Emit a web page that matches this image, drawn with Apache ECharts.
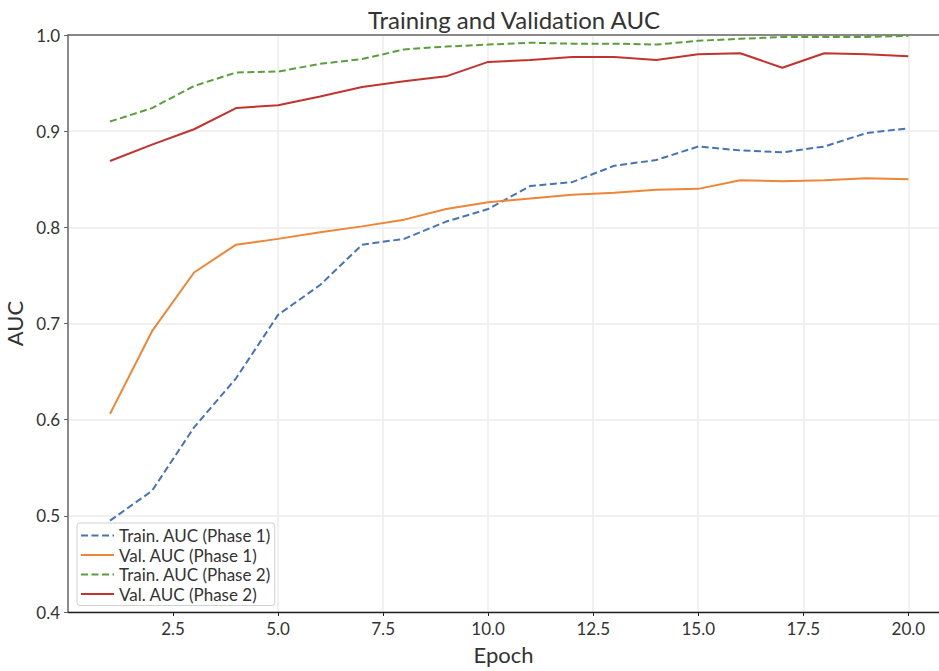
<!DOCTYPE html>
<html>
<head>
<meta charset="utf-8">
<script src="https://cdn.jsdelivr.net/npm/echarts@6/dist/echarts.min.js"></script>
<style>
html,body{margin:0;padding:0;background:#fff;}
#chart{width:939px;height:671px;font-variant-ligatures:none;}
#chart text{font-variant-ligatures:none;}
</style>
</head>
<body>
<div id="chart"></div>
<script>
const epochs = [1,2,3,4,5,6,7,8,9,10,11,12,13,14,15,16,17,18,19,20];
const trainP1 = [0.495,0.526,0.592,0.643,0.709,0.740,0.782,0.788,0.806,0.819,0.843,0.847,0.864,0.870,0.884,0.880,0.878,0.884,0.898,0.903];
const valP1 = [0.606,0.692,0.753,0.782,0.788,0.795,0.801,0.808,0.819,0.826,0.830,0.834,0.836,0.839,0.840,0.849,0.848,0.849,0.851,0.850];
const trainP2 = [0.910,0.924,0.947,0.961,0.962,0.970,0.975,0.985,0.988,0.990,0.992,0.991,0.991,0.990,0.994,0.996,0.998,0.998,0.998,0.999];
const valP2 = [0.869,0.886,0.902,0.924,0.927,0.936,0.946,0.952,0.957,0.972,0.974,0.977,0.977,0.974,0.980,0.981,0.966,0.981,0.980,0.978];
const xTicks = [2.5,5.0,7.5,10.0,12.5,15.0,17.5,20.0];
const seriesNames = ['Train. AUC (Phase 1)','Val. AUC (Phase 1)','Train. AUC (Phase 2)','Val. AUC (Phase 2)'];
const seriesColors = ['#4674b6','#ef8536','#5b9e3c','#c2332f'];

const FONT = 'Lato, "Noto Sans", sans-serif';
const pairs = arr => epochs.map((e,i)=>[e, arr[i]]);
const dataSets = [trainP1, valP1, trainP2, valP2];
const dashed = [true,false,true,false];

const chart = echarts.init(document.getElementById('chart'), null, {renderer:'svg'});
const gridLineColors = ['rgba(0,0,0,0)'].concat(new Array(12).fill('#ececec'));

chart.setOption({
  backgroundColor:'#fff',
  animation:false,
  textStyle:{fontFamily:FONT},
  title:{
    text:'Training and Validation AUC',
    left:509, top:2, textAlign:'center',
    textStyle:{fontFamily:FONT, fontSize:24, fontWeight:'normal', color:'#333'}
  },
  grid:{left:68, right:0, top:35, bottom:59, containLabel:false, outerBoundsMode:'none'},
  legend:{
    orient:'vertical', left:77, top:523,
    padding:[4,4,3,3],
    itemWidth:33, itemHeight:14, itemGap:2.5,
    borderColor:'#d0d0d0', borderWidth:1, borderRadius:3,
    backgroundColor:'rgba(255,255,255,0.85)',
    itemStyle:{opacity:0, borderWidth:0},
    textStyle:{fontFamily:FONT, fontSize:17, color:'#333', lineHeight:16},
    data:seriesNames
  },
  xAxis:[{
    type:'value', min:0, max:20.73, interval:2.5,
    name:'Epoch', nameLocation:'middle', nameGap:31,
    nameTextStyle:{fontFamily:FONT, fontSize:22, color:'#333'},
    axisLine:{show:true, onZero:false, lineStyle:{color:'#222', width:1.3}},
    axisTick:{show:true, length:4, lineStyle:{color:'#222'}, customValues:xTicks},
    axisLabel:{fontFamily:FONT, fontSize:17, color:'#333', margin:8,
      customValues:xTicks, formatter:v=>Number(v).toFixed(1)},
    splitLine:{show:true, lineStyle:{color:gridLineColors, width:1.5}}
  },{
    type:'value', position:'top', min:0, max:20.73,
    axisLine:{show:true, onZero:false, lineStyle:{color:'#666', width:1.5}},
    axisTick:{show:false}, axisLabel:{show:false}, splitLine:{show:false}
  }],
  yAxis:{
    type:'value', min:0.4, max:1.0, interval:0.1,
    name:'AUC', nameLocation:'middle', nameGap:35, nameRotate:90,
    nameTextStyle:{fontFamily:FONT, fontSize:22, color:'#333'},
    axisLine:{show:true, onZero:false, lineStyle:{color:'#666', width:1.5}},
    axisTick:{show:true, length:4, lineStyle:{color:'#666'}},
    axisLabel:{fontFamily:FONT, fontSize:17, color:'#333', margin:8, formatter:v=>Number(v).toFixed(1)},
    splitLine:{show:true, lineStyle:{color:'#ececec', width:1.5}}
  },
  series: seriesNames.map((name,i)=>({
    name:name, type:'line', xAxisIndex:0,
    data:pairs(dataSets[i]),
    symbol:'none',
    lineStyle:{color:seriesColors[i], width:2, type: dashed[i] ? [7,3.5] : 'solid'},
    itemStyle:{color:seriesColors[i]},
    z: 2+i
  }))
});
</script>
</body>
</html>
